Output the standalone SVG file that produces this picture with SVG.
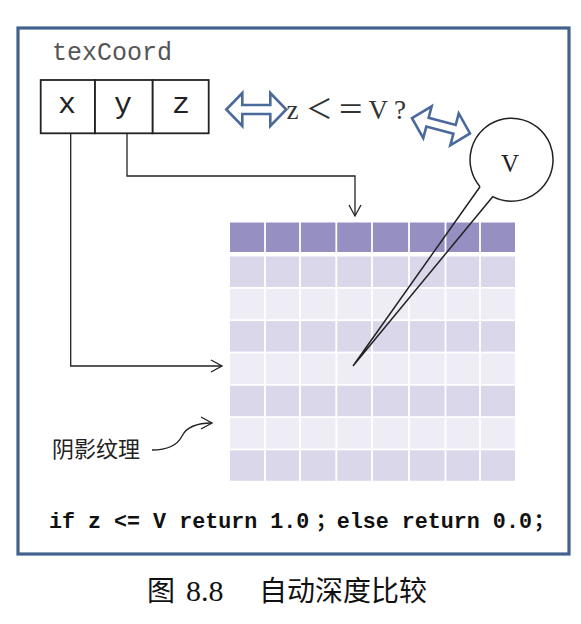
<svg xmlns="http://www.w3.org/2000/svg" width="581" height="624" viewBox="0 0 581 624">
<style>
.ln{fill:none;stroke:#222;stroke-width:1.3}
.box{fill:#fff;stroke:#222;stroke-width:1.8}
.mono{font-family:"Liberation Mono","DejaVu Sans Mono",monospace}
.dbl{fill:#fff;stroke:#4b6a9b;stroke-width:2.6;stroke-linejoin:miter}
.dark{fill:#9590c1}.mid{fill:#dbd7eb}.light{fill:#eeedf5}
</style>
<defs>
<marker id="ah" markerWidth="14" markerHeight="14" refX="12" refY="7" orient="auto" markerUnits="userSpaceOnUse">
<path d="M1,1 L12,7 L1,13" fill="none" stroke="#222" stroke-width="1.3"/>
</marker>
<path id="dblarrow" d="M-30,0 L-14,-16.5 L-14,-4.5 L14,-4.5 L14,-16.5 L30,0 L14,16.5 L14,4.5 L-14,4.5 L-14,16.5 Z"/>
</defs>
<rect width="581" height="624" fill="#fff"/>
<rect x="18" y="28" width="551" height="526" fill="#fff" stroke="#42618f" stroke-width="3.2"/>

<g id="texcoord">
<text x="52" y="60" class="mono" font-size="25" fill="#555">texCoord</text>
<rect x="40.7" y="80" width="54.3" height="53.3" class="box"/>
<rect x="95" y="80" width="57.7" height="53.3" class="box"/>
<rect x="152.7" y="80" width="56" height="53.3" class="box"/>
<text class="mono" font-size="30" fill="#222" text-anchor="middle"><tspan x="67" y="113">x</tspan><tspan x="123" y="113">y</tspan><tspan x="181" y="113">z</tspan></text>
</g>

<g id="grid">
<rect x="230" y="222.5" width="285" height="29.5" class="dark"/>
<rect x="230" y="256.5" width="285" height="30.5" class="mid"/>
<rect x="230" y="288.8" width="285" height="30.5" class="light"/>
<rect x="230" y="321.1" width="285" height="30.5" class="mid"/>
<rect x="230" y="353.4" width="285" height="30.5" class="light"/>
<rect x="230" y="385.7" width="285" height="30.5" class="mid"/>
<rect x="230" y="418" width="285" height="30.5" class="light"/>
<rect x="230" y="450.3" width="285" height="30.5" class="mid"/>
<g stroke="#fff" stroke-width="1.8">
<line x1="265" y1="222" x2="265" y2="482"/>
<line x1="300" y1="222" x2="300" y2="482"/>
<line x1="336.3" y1="222" x2="336.3" y2="482"/>
<line x1="372" y1="222" x2="372" y2="482"/>
<line x1="409" y1="222" x2="409" y2="482"/>
<line x1="445.5" y1="222" x2="445.5" y2="482"/>
<line x1="480" y1="222" x2="480" y2="482"/>
</g>
</g>

<g id="connectors">
<path class="ln" d="M70.7,133.3 V366 H222" marker-end="url(#ah)"/>
<path class="ln" d="M127,133.3 V176 H355 V216" marker-end="url(#ah)"/>
<path class="ln" d="M152,450 C170,450 178,444 182,436 C187,426 199,423 212,423" marker-end="url(#ah)"/>
</g>

<g id="pin">
<path d="M480,186.7 L353,366 L492.7,196.7 A41.5,41.5 0 1 0 480,186.7" fill="none" stroke="#222" stroke-width="1.5" stroke-linejoin="miter"/>
<text x="510" y="171.5" font-family="Liberation Serif,serif" font-size="25" fill="#222" text-anchor="middle">V</text>
</g>

<g id="arrows">
<use href="#dblarrow" class="dbl" transform="translate(256.3,109.5)"/>
<use href="#dblarrow" class="dbl" transform="translate(441,125.8) rotate(14.8)"/>
</g>

<g id="compare">
<text font-family="Liberation Serif,'Noto Sans CJK SC',serif" font-size="27" fill="#333" text-anchor="middle"><tspan x="292.5" y="118.5">z</tspan><tspan x="319.3" y="118.5" font-family="'Noto Sans CJK SC',sans-serif" font-size="27">＜</tspan><tspan x="350.8" y="118.5" font-family="'Noto Sans CJK SC',sans-serif" font-size="27">＝</tspan><tspan x="378.3" y="118.5">V</tspan><tspan x="400" y="118.5">?</tspan></text>
</g>

<g id="label">
<text x="52" y="457" font-family="'Noto Sans CJK SC',sans-serif" font-size="22" fill="#222">阴影纹理</text>
</g>

<g id="code">
<text class="mono" font-size="21.7" font-weight="bold" fill="#111"><tspan x="49" y="528">if z &lt;= V return 1.0</tspan><tspan x="316" y="528" font-family="'Noto Sans CJK SC',sans-serif" font-size="20">；</tspan><tspan x="336.7" y="528">else return 0.0</tspan><tspan x="534" y="528" font-family="'Noto Sans CJK SC',sans-serif" font-size="20">；</tspan></text>
</g>

<g id="caption">
<text font-family="'Noto Sans CJK SC',sans-serif" font-size="28" fill="#111"><tspan x="147" y="601">图</tspan><tspan x="186" y="601" font-family="Liberation Serif,serif" font-size="30">8.8</tspan><tspan x="259" y="601">自动深度比较</tspan></text>
</g>
</svg>
